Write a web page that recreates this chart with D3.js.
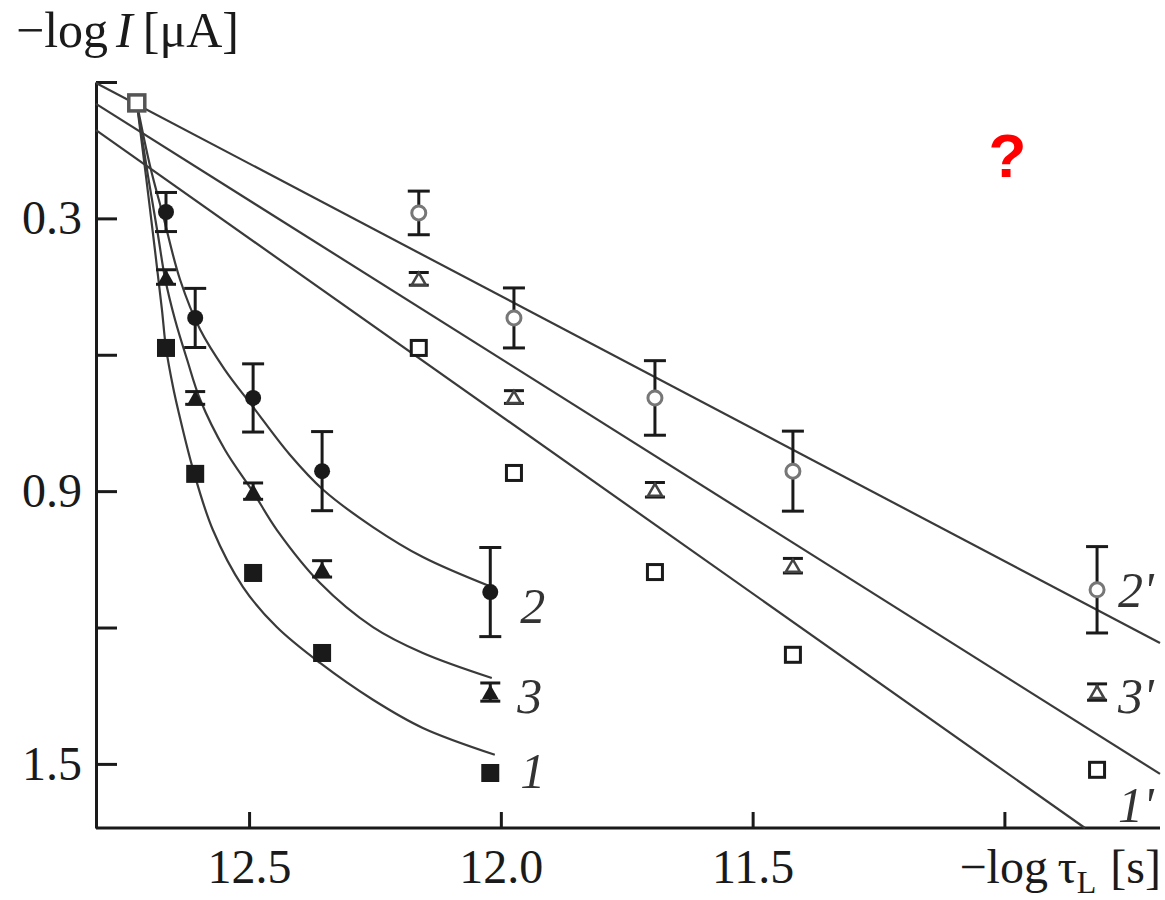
<!DOCTYPE html>
<html>
<head>
<meta charset="utf-8">
<script src="https://cdn.jsdelivr.net/npm/d3@7"></script>
<style>
  body { margin: 0; background: #fff; }
</style>
</head>
<body>
<svg id="chart" width="1165" height="900"></svg>
<script>
// both axes run backwards: -log tau_L on x, -log I on y
var commonX = [12.723];
var commonY = [0.046];

// fast series 1, 2, 3 (filled markers)
var xFast = [12.665, 12.607, 12.492, 12.355, 12.021];
var y1 = [0.585, 0.862, 1.080, 1.256, 1.520];
var y2 = [0.286, 0.519, 0.695, 0.856, 1.122];
var e2 = [0.043, 0.065, 0.075, 0.087, 0.098];
var y3 = [0.429, 0.695, 0.900, 1.071, 1.342];
var e3 = [0.016, 0.014, 0.018, 0.018, 0.020];

// slow series 1', 2', 3' (open markers)
var xSlow = [12.163, 11.974, 11.694, 11.420, 10.816];
var y1p = [0.585, 0.860, 1.078, 1.260, 1.513];
var y2p = [0.288, 0.519, 0.695, 0.856, 1.117];
var e2p = [0.048, 0.066, 0.082, 0.088, 0.095];
var y3p = [0.433, 0.693, 0.897, 1.064, 1.342];
var e3p = [0.014, 0.014, 0.016, 0.016, 0.018];

// fitted curves
var curve1 = [[12.723, 0.046], [12.705, 0.205], [12.687, 0.369], [12.673, 0.501], [12.665, 0.585],
  [12.651, 0.671], [12.641, 0.721], [12.611, 0.853], [12.572, 0.985], [12.512, 1.111],
  [12.445, 1.199], [12.359, 1.278], [12.254, 1.359], [12.155, 1.421], [12.012, 1.480]];
var curve3 = [[12.723, 0.046], [12.701, 0.205], [12.681, 0.336], [12.667, 0.431], [12.647, 0.523],
  [12.623, 0.611], [12.597, 0.699], [12.548, 0.809], [12.492, 0.902], [12.445, 0.985],
  [12.359, 1.102], [12.254, 1.199], [12.155, 1.256], [12.018, 1.311]];
var curve2 = [[12.723, 0.046], [12.697, 0.183], [12.671, 0.293], [12.637, 0.435], [12.597, 0.545],
  [12.548, 0.633], [12.492, 0.715], [12.419, 0.820], [12.353, 0.897], [12.254, 0.979],
  [12.155, 1.045], [12.018, 1.111]];

// straight fits for the primed series
var line2p = [[12.804, 0.002], [10.691, 1.234]];
var line3p = [[12.804, 0.048], [10.691, 1.522]];
var line1p = [[12.804, 0.106], [10.840, 1.641]];

var xTicks = [12.5, 12.0, 11.5, 11.0];
var xTickLabels = ['12.5', '12.0', '11.5', ''];
var yTicks = [0, 0.3, 0.6, 0.9, 1.2, 1.5];
var yTickLabels = ['', '0.3', '', '0.9', '', '1.5'];

var svg = d3.select('#chart');
var ink = '#1a1a1a';
var serif = '"Liberation Serif", "Times New Roman", Times, serif';

var x = d3.scaleLinear().domain([12.804, 10.691]).range([96, 1160]);
var y = d3.scaleLinear().domain([0, 1.641]).range([82, 828]);

function pts(xs, ys, es) {
  return xs.map(function(v, i) { return { x: v, y: ys[i], e: es ? es[i] : 0 }; });
}

// axes
var yAxis = d3.axisLeft(y)
  .tickValues(yTicks)
  .tickSizeInner(-21)
  .tickSizeOuter(0)
  .tickPadding(14)
  .tickFormat(function(d, i) { return yTickLabels[i]; });

var xAxis = d3.axisBottom(x)
  .tickValues(xTicks)
  .tickSizeInner(-16)
  .tickSizeOuter(0)
  .tickPadding(21)
  .tickFormat(function(d, i) { return xTickLabels[i]; });

var gy = svg.append('g').attr('transform', 'translate(96,0)').call(yAxis);
var gx = svg.append('g').attr('transform', 'translate(0,828)').call(xAxis);

[gy, gx].forEach(function(g) {
  g.attr('font-family', null).attr('font-size', null);
  g.selectAll('path, line').attr('stroke', ink).attr('stroke-width', 3);
  g.selectAll('text')
    .style('font-family', serif)
    .style('font-size', '48px')
    .style('fill', ink);
});
gx.select('.domain').attr('d', 'M96,0H1160');

// axis titles
var yt = svg.append('text').attr('x', 16).attr('y', 47)
  .style('font-family', serif).style('font-size', '50px').style('fill', ink);
yt.append('tspan').text('\u2212log');
yt.append('tspan').attr('font-style', 'italic').attr('dx', 8).text('I');
yt.append('tspan').attr('dx', 10).text('[\u03bcA]');

var xt = svg.append('text').attr('x', 1161).attr('y', 883).attr('text-anchor', 'end')
  .style('font-family', serif).style('font-size', '48px').style('fill', ink);
xt.append('tspan').text('\u2212log\u2009\u03c4');
xt.append('tspan').style('font-size', '32px').attr('dy', 10).text('L');
xt.append('tspan').attr('dy', -10).attr('dx', 14).text('[s]');

// fits
var lineGen = d3.line()
  .x(function(d) { return x(d[0]); })
  .y(function(d) { return y(d[1]); });
var curveGen = d3.line()
  .x(function(d) { return x(d[0]); })
  .y(function(d) { return y(d[1]); })
  .curve(d3.curveCatmullRom.alpha(0.5));

[line2p, line3p, line1p].forEach(function(l) {
  svg.append('path').attr('d', lineGen(l))
    .attr('fill', 'none').attr('stroke', '#3a3a3a').attr('stroke-width', 2.2);
});
[curve1, curve2, curve3].forEach(function(c) {
  svg.append('path').attr('d', curveGen(c))
    .attr('fill', 'none').attr('stroke', '#3a3a3a').attr('stroke-width', 2.2);
});

// error bars
function errorBars(data, capW) {
  var g = svg.append('g').attr('stroke', ink).attr('stroke-width', 3);
  data.forEach(function(d) {
    var cx = x(d.x), top = y(d.y - d.e), bot = y(d.y + d.e);
    g.append('line').attr('x1', cx).attr('x2', cx).attr('y1', top).attr('y2', bot);
    g.append('line').attr('x1', cx - capW / 2).attr('x2', cx + capW / 2).attr('y1', top).attr('y2', top);
    g.append('line').attr('x1', cx - capW / 2).attr('x2', cx + capW / 2).attr('y1', bot).attr('y2', bot);
  });
}

errorBars(pts(xFast, y2, e2), 22);
errorBars(pts(xSlow, y2p, e2p), 22);
errorBars(pts(xFast, y3, e3), 20);
errorBars(pts(xSlow, y3p, e3p), 20);

// markers
function squares(data, size, fill, stroke, sw) {
  svg.append('g').selectAll('rect').data(data).enter().append('rect')
    .attr('x', function(d) { return x(d.x) - size / 2; })
    .attr('y', function(d) { return y(d.y) - size / 2; })
    .attr('width', size).attr('height', size)
    .attr('fill', fill).attr('stroke', stroke).attr('stroke-width', sw);
}
function circles(data, r, fill, stroke, sw) {
  svg.append('g').selectAll('circle').data(data).enter().append('circle')
    .attr('cx', function(d) { return x(d.x); })
    .attr('cy', function(d) { return y(d.y); })
    .attr('r', r)
    .attr('fill', fill).attr('stroke', stroke).attr('stroke-width', sw);
}
function triangles(data, w, h, fill, stroke, sw) {
  svg.append('g').selectAll('path').data(data).enter().append('path')
    .attr('d', function(d) {
      var cx = x(d.x), cy = y(d.y);
      return 'M' + (cx - w / 2) + ',' + (cy + h / 2) + 'L' + cx + ',' + (cy - h / 2) +
        'L' + (cx + w / 2) + ',' + (cy + h / 2) + 'Z';
    })
    .attr('fill', fill).attr('stroke', stroke).attr('stroke-width', sw);
}

squares(pts(xFast, y1), 18, ink, 'none', 0);
circles(pts(xFast, y2), 8, ink, 'none', 0);
triangles(pts(xFast, y3), 17, 15, ink, 'none', 0);

squares(pts(xSlow, y1p), 15, '#fff', ink, 3);
circles(pts(xSlow, y2p), 7, '#fff', '#777', 3);
triangles(pts(xSlow, y3p), 14, 12, '#fff', '#444', 2.5);

squares(pts(commonX, commonY), 16, '#fff', '#555', 3.5);

// series labels
var labels = [
  { t: '2', x: xFast[4], y: y2[4], dx: 30, dy: 31 },
  { t: '3', x: xFast[4], y: y3[4], dx: 27, dy: 21 },
  { t: '1', x: xFast[4], y: y1[4], dx: 30, dy: 15 },
  { t: '2\'', x: xSlow[4], y: y2p[4], dx: 21, dy: 17 },
  { t: '3\'', x: xSlow[4], y: y3p[4], dx: 21, dy: 21 },
  { t: '1\'', x: xSlow[4], y: y1p[4], dx: 21, dy: 52 }
];
svg.append('g').selectAll('text').data(labels).enter().append('text')
  .attr('x', function(d) { return x(d.x) + d.dx; })
  .attr('y', function(d) { return y(d.y) + d.dy; })
  .style('font-family', serif).style('font-size', '50px')
  .style('font-style', 'italic').style('fill', '#333')
  .text(function(d) { return d.t; });

// red question mark in the upper right
svg.append('text')
  .attr('x', x(11.0) + 3).attr('y', y(0.21))
  .attr('text-anchor', 'middle')
  .style('font-family', '"Liberation Sans", Arial, sans-serif')
  .style('font-weight', 'bold').style('font-size', '62px')
  .style('fill', '#ff0000')
  .text('?');
</script>
</body>
</html>
